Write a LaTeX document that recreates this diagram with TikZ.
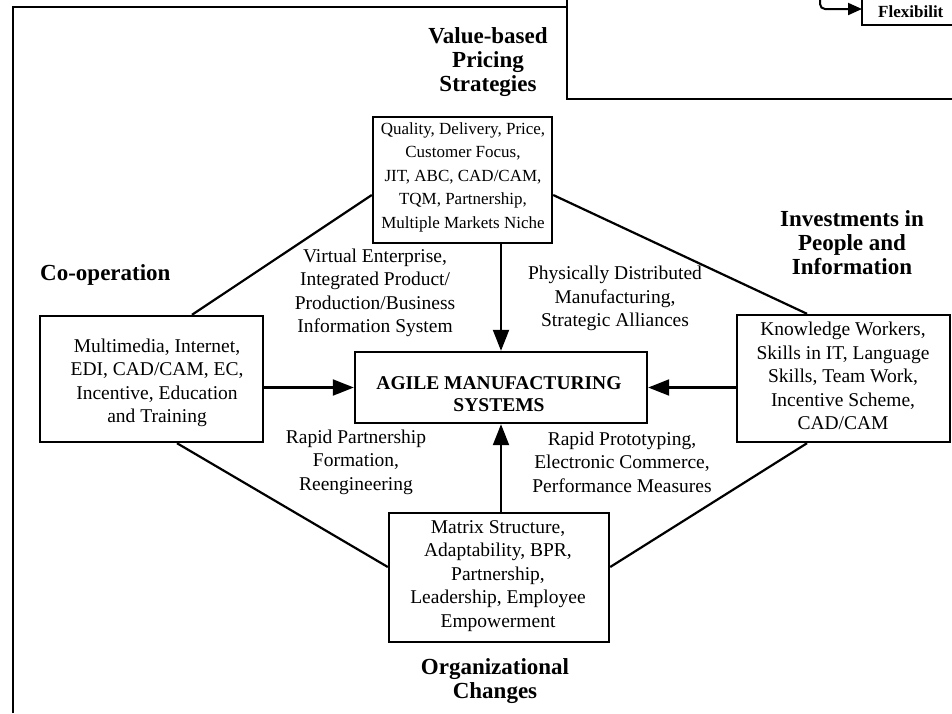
\documentclass[tikz,border=0pt]{standalone}
\usepackage{fontspec}
\setmainfont{Liberation Serif}
\usetikzlibrary{arrows.meta}
\tikzset{
  boxstyle/.style={draw, line width=2.4pt, fill=white, inner sep=0pt},
  bodytext/.style={align=center, font=\fontsize{19.5}{23.5}\selectfont, inner sep=0pt},
  toptext/.style={align=center, font=\fontsize{17}{23.5}\selectfont, inner sep=0pt},
  headtext/.style={align=center, font=\fontsize{23}{24}\selectfont\bfseries, inner sep=0pt},
  conn/.style={line width=2.2pt},
  arr/.style={line width=2.2pt, -{Triangle[length=21pt,width=16pt]}},
}
\begin{document}
\begin{tikzpicture}[x=1pt, y=-1pt]
\useasboundingbox (0,0) rectangle (952,713);
\clip (0,0) rectangle (952,713);

% outer frame of the figure
\draw[line width=2pt] (13,713) -- (13,7) -- (567,7);
% overlapping figure in the upper right corner
\fill[white] (567,-2) rectangle (954,99);
\draw[line width=2pt] (567,-2) -- (567,99) -- (954,99);
\draw[line width=1.6pt] (862,-2) -- (862,25) -- (954,25);
\node[anchor=west, font=\fontsize{17}{20}\selectfont\bfseries, inner sep=0pt] (flex) at (878,12) {Flexibilit};
\coordinate (hooktop) at (820,-2);
\draw[line width=2pt, rounded corners=5pt, -{Triangle[length=14pt,width=12pt]}] (hooktop) -- (820,9) -- (862,9);

% boxes
\node[boxstyle, minimum width=179pt, minimum height=126pt] (tb) at (462.5,180) {};
\node[toptext] (tbt) at (463,177) {Quality, Delivery, Price,\\Customer Focus,\\JIT, ABC, CAD/CAM,\\TQM, Partnership,\\Multiple Markets Niche};

\node[boxstyle, minimum width=223pt, minimum height=126pt] (lb) at (151.5,379) {};
\node[bodytext] (lbt) at (157,383) {Multimedia, Internet,\\EDI, CAD/CAM, EC,\\Incentive, Education\\and Training};

\node[boxstyle, minimum width=213pt, minimum height=127pt] (rb) at (843.5,378.5) {};
\node[bodytext] (rbt) at (843,376) {Knowledge Workers,\\Skills in IT, Language\\Skills, Team Work,\\Incentive Scheme,\\CAD/CAM};

\node[boxstyle, minimum width=220pt, minimum height=129pt] (bb) at (499,577.5) {};
\node[bodytext] (bbt) at (498,576) {Matrix Structure,\\Adaptability, BPR,\\Partnership,\\Leadership, Employee\\Empowerment};

\node[boxstyle, minimum width=292pt, minimum height=71pt] (cb) at (501,387.5) {};
\node[align=center, font=\fontsize{19.5}{22}\selectfont\bfseries, inner sep=0pt] (cbt) at (499,394) {AGILE MANUFACTURING\\SYSTEMS};

% headings
\node[headtext] (h1) at (488,62) {Value-based\\Pricing\\Strategies};
\node[headtext, anchor=west] (h2) at (40,275) {Co-operation};
\node[headtext] (h3) at (852,243) {Investments in\\People and\\Information};
\node[headtext] (h4) at (495,681) {Organizational\\Changes};

% labels
\node[bodytext] (l1) at (375,293) {Virtual Enterprise,\\Integrated Product/\\Production/Business\\Information System};
\node[bodytext] (l2) at (615,298.5) {Physically Distributed\\Manufacturing,\\Strategic Alliances};
\node[bodytext] (l3) at (356,462) {Rapid Partnership\\Formation,\\Reengineering};
\node[bodytext] (l4) at (622,462) {Rapid Prototyping,\\Electronic Commerce,\\Performance Measures};

% diamond connectors
\draw[conn] ([xshift=40.5pt]lb.north) -- ([yshift=-15pt]tb.west);
\draw[conn] ([yshift=-15pt]tb.east) -- ([xshift=-36.5pt]rb.north);
\draw[conn] ([xshift=25.5pt]lb.south) -- ([yshift=10.5pt]bb.west);
\draw[conn] ([yshift=10.5pt]bb.east) -- ([xshift=-36.5pt]rb.south);

% arrows into the centre
\draw[arr] (cb.north |- tb.south) -- (cb.north);
\draw[arr] (lb.east |- cb.west) -- (cb.west);
\draw[arr] (rb.west |- cb.east) -- (cb.east);
\draw[arr] (cb.south |- bb.north) -- (cb.south);
\end{tikzpicture}
\end{document}
